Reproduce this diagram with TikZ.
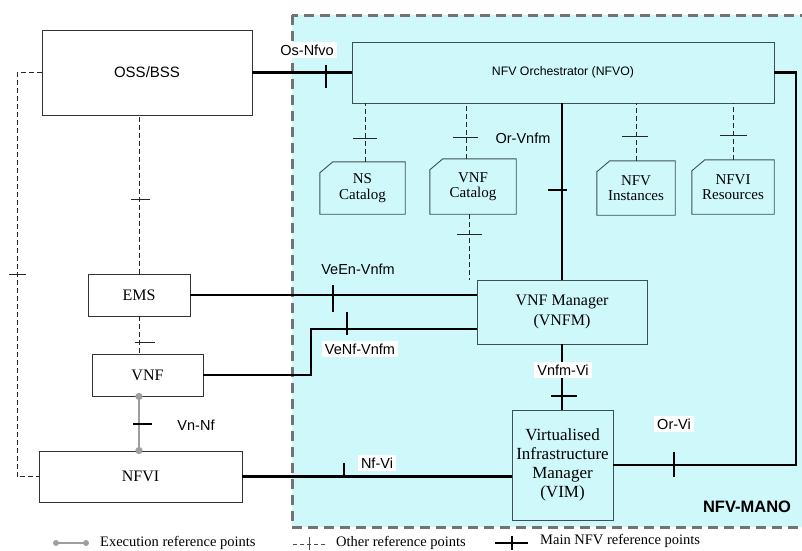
\documentclass[tikz,border=0pt]{standalone}
\usepackage{fontspec}
\setmainfont{Liberation Serif}
\newfontfamily\sansf{Liberation Sans}
\usetikzlibrary{calc}
\definecolor{manofill}{RGB}{207,248,251}
\definecolor{manoedge}{RGB}{115,115,115}
\definecolor{boxedge}{RGB}{60,82,82}
\definecolor{execgray}{RGB}{158,158,158}
\begin{document}
\begin{tikzpicture}[x=1pt,y=-1pt,
  outbox/.style={draw=black!80, line width=0.9pt, fill=white, inner sep=0pt, align=center, font=\fontsize{16}{18}\selectfont},
  inbox/.style={draw=boxedge, line width=0.9pt, fill=manofill, inner sep=0pt, align=center, font=\fontsize{16}{20}\selectfont},
  catnode/.style={inner sep=0pt, align=center, font=\fontsize{15}{15.5}\selectfont},
  catedge/.style={draw=boxedge, line width=0.9pt},
  mainline/.style={line width=2.6pt, black},
  otherline/.style={line width=0.9pt, black!85, dash pattern=on 5pt off 3pt},
  maintick/.style={line width=1.8pt, black},
  othertick/.style={line width=0.9pt, black!85},
  execline/.style={line width=2.4pt, execgray},
  reflabel/.style={font=\sansf\fontsize{14.5}{16}\selectfont, inner sep=3pt},
  whitelabel/.style={reflabel, fill=white},
  legendtext/.style={font=\fontsize{14.5}{16}\selectfont, inner sep=0pt, anchor=west}
]
\useasboundingbox (0,0) rectangle (802,550);
\clip (0,0) rectangle (802,550);

% MANO area
\draw[manoedge, fill=manofill, line width=3pt, dash pattern=on 10pt off 6pt] (292,15) rectangle (815,527);
\node[font=\sansf\bfseries\fontsize{16.5}{18}\selectfont, inner sep=0pt] (manolabel) at (747,507) {NFV-MANO};

% outside boxes
\node[outbox, minimum width=210pt, minimum height=85pt, font=\sansf\fontsize{15}{17}\selectfont] (oss) at (147,72.5) {OSS/BSS};
\node[outbox, minimum width=102pt, minimum height=42pt] (ems) at (139,295) {EMS};
\node[outbox, minimum width=111pt, minimum height=42pt] (vnf) at (147.5,375) {VNF};
\node[outbox, minimum width=203pt, minimum height=51pt] (nfvi) at (140.5,476.5) {NFVI};

% MANO boxes
\node[inbox, minimum width=422pt, minimum height=61pt, font=\sansf\fontsize{12.3}{14}\selectfont] (nfvo) at (563,72.5) {NFV Orchestrator (NFVO)};
\node[inbox, minimum width=170pt, minimum height=64pt] (vnfm) at (562,312) {VNF Manager\\(VNFM)};
\node[inbox, minimum width=101pt, minimum height=110pt, font=\fontsize{17}{19}\selectfont] (vim) at (562.5,465) {Virtualised\\Infrastructure\\Manager\\(VIM)};

% catalogs
\node[catnode, minimum width=85pt, minimum height=52pt] (nscat) at (362.5,188) {NS\\Catalog};
\node[catnode, minimum width=86pt, minimum height=55pt] (vnfcat) at (473,186.5) {VNF\\Catalog};
\node[catnode, minimum width=78pt, minimum height=54pt] (nfvinst) at (636,188) {NFV\\Instances};
\node[catnode, minimum width=82pt, minimum height=54pt] (nfvires) at (733,187) {NFVI\\Resources};
\foreach \c in {nscat,vnfcat,nfvinst,nfvires}
  \draw[catedge] (\c.south west) -- ($(\c.north west)+(0,11)$) -- ($(\c.north west)+(13,0)$) -- (\c.north east) -- (\c.south east) -- cycle;

% other reference points (dashed)
\draw[otherline] (ems.north) -- (ems.north |- oss.south);
\draw[othertick] (131,199) -- (150,199);
\draw[otherline] (ems.south) -- (ems.south |- vnf.north);
\draw[othertick] (135,342) -- (155,342);
\coordinate (loopx) at (17,0);
\draw[otherline] (oss.west) -- (oss.west -| loopx) -- (nfvi.west -| loopx) -- (nfvi.west);
\draw[othertick] (9,274) -- (26,274);

\coordinate (nsx) at ($(nscat.north)+(2.5,0)$);
\draw[otherline] (nsx) -- (nsx |- nfvo.south);
\draw[othertick] (353,138) -- (377,138);
\coordinate (vcx) at ($(vnfcat.north)+(-7,0)$);
\draw[otherline] (vcx) -- (vcx |- nfvo.south);
\draw[othertick] (453,137) -- (478,137);
\draw[otherline] (nfvinst.north) -- (nfvinst.north |- nfvo.south);
\draw[othertick] (622,136) -- (648,136);
\draw[otherline] (nfvires.north) -- (nfvires.north |- nfvo.south);
\draw[othertick] (720,135) -- (747,135);
\coordinate (vcb) at ($(vnfcat.south)+(-4,0)$);
\coordinate (catend) at (469,280);
\draw[otherline] (vcb) -- (catend);
\draw[othertick] (457,234) -- (482,234);

% execution reference point
\draw[execline] (ems.south |- vnf.south) -- (ems.south |- nfvi.north);
\fill[execgray] (ems.south |- vnf.south) circle (3.6pt);
\fill[execgray] (ems.south |- nfvi.north) circle (3.6pt);
\draw[maintick] (133,424) -- (152,424);
\node[reflabel] (vnnf) at (196,425) {Vn-Nf};

% main reference points
\draw[mainline] (oss.east) -- (nfvo.west);
\draw[maintick] (326,65) -- (326,88);
\node[whitelabel] (osnfvo) at (307,50) {Os-Nfvo};

\draw[mainline] (vnfm.north) -- (vnfm.north |- nfvo.south);
\draw[maintick] (548,190) -- (567,190);
\node[reflabel] (orvnfm) at (523,138) {Or-Vnfm};

\draw[mainline] (ems.east) -- (ems.east -| vnfm.west);
\draw[maintick] (333,285) -- (333,312);
\node[reflabel] (veen) at (358,269) {VeEn-Vnfm};

\coordinate (venfbend) at (311,329);
\draw[mainline] (vnf.east) -| (venfbend) -- (venfbend -| vnfm.west);
\draw[maintick] (347,312) -- (347,335);
\node[whitelabel] (venf) at (360,349) {VeNf-Vnfm};

\draw[mainline] (vnfm.south) -- (vnfm.south |- vim.north);
\draw[maintick] (551,396) -- (577,396);
\node[whitelabel] (vnfmvi) at (563,370) {Vnfm-Vi};

\draw[mainline] (nfvi.east) -- (nfvi.east -| vim.west);
\draw[maintick] (344,463) -- (344,478);
\node[whitelabel] (nfvilab) at (377,463) {Nf-Vi};

\coordinate (orvix) at (796,0);
\draw[mainline] (vim.east) -- (vim.east -| orvix) -- (nfvo.east -| orvix) -- (nfvo.east);
\draw[maintick] (674,452) -- (674,477);
\node[whitelabel] (orvi) at (674,424) {Or-Vi};

% legend
\coordinate (la) at (56,543);
\coordinate (lb) at (86,543);
\draw[execgray, line width=1.6pt] (la) -- (lb);
\fill[execgray] (la) circle (3pt);
\fill[execgray] (lb) circle (3pt);
\node[legendtext] (lt1) at (100,543) {Execution reference points};
\coordinate (lc) at (293,544);
\coordinate (ld) at (327,544);
\draw[line width=0.8pt, black!70, dash pattern=on 4pt off 3pt] (lc) -- (ld);
\draw[line width=0.8pt, black!70] (309,537) -- (309,550);
\node[legendtext] (lt2) at (336,543) {Other reference points};
\coordinate (le) at (495,543);
\coordinate (lf) at (528,543);
\draw[line width=2.4pt] (le) -- (lf);
\draw[line width=1.6pt] (512,536) -- (512,550);
\node[legendtext] (lt3) at (540,541) {Main NFV reference points};
\end{tikzpicture}
\end{document}
